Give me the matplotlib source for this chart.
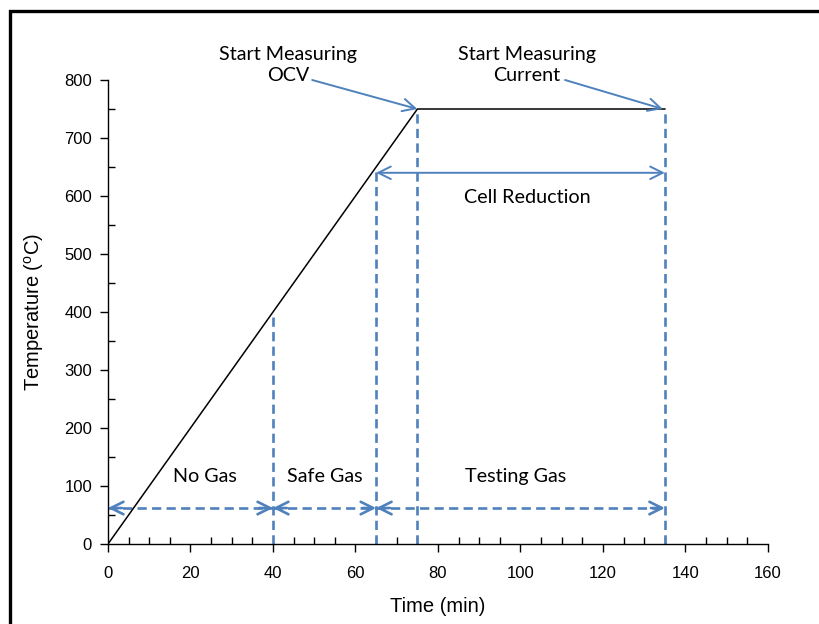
import matplotlib
matplotlib.use("Agg")
import matplotlib.pyplot as plt
from matplotlib.lines import Line2D
from matplotlib.ticker import MultipleLocator
import numpy as np

# Furnace temperature programme
ramp_time = [0, 75, 135]          # min
ramp_temp = [0, 750, 750]         # degC

# Gas phases (boundaries in min) and the level of their arrows
gas_bounds = [0, 40, 65, 135]
gas_labels = ["No Gas", "Safe Gas", "Testing Gas"]
gas_label_x = [23.5, 52.6, 98.7]
gas_arrow_y = 62

# Event markers (vertical dashed lines)
marker_times = [40, 65, 75, 135]

# Cell reduction span
reduction_span = [65, 135]
reduction_y = 640

BLUE = "#4F81BD"
TICK_FONT = "Liberation Sans"
NOTE_FONT = ["Lato", "DejaVu Sans"]
NOTE_SIZE = 14.2

fig = plt.figure(figsize=(8.2, 6.24), dpi=100)
ax = fig.add_axes([108 / 820, 1 - 544 / 624, 660 / 820, 464 / 624])

# temperature profile
ax.plot(ramp_time, ramp_temp, color="black", lw=1.1, zorder=3)

# vertical event markers up to the profile
for t in marker_times:
    top = np.interp(t, ramp_time, ramp_temp)
    ax.plot([t, t], [0, top], color=BLUE, lw=1.9, ls=(0, (3.5, 2.0)), zorder=2)

# dashed phase arrows
head = dict(arrowstyle="->,head_length=0.9,head_width=0.45", color=BLUE, lw=1.9,
            shrinkA=0, shrinkB=0)
for a, b in zip(gas_bounds[:-1], gas_bounds[1:]):
    ax.plot([a, b], [gas_arrow_y, gas_arrow_y], color=BLUE, lw=1.9,
            ls=(0, (3.5, 2.0)), zorder=2)
    ax.annotate("", xy=(a, gas_arrow_y), xytext=(10, 0), textcoords="offset points",
                arrowprops=head, zorder=4)
    ax.annotate("", xy=(b, gas_arrow_y), xytext=(-10, 0), textcoords="offset points",
                arrowprops=head, zorder=4)

for lbl, x in zip(gas_labels, gas_label_x):
    ax.text(x, 117, lbl, ha="center", va="center", fontsize=NOTE_SIZE, family=NOTE_FONT)

# cell reduction arrow
ax.annotate("", xy=(reduction_span[0], reduction_y), xytext=(reduction_span[1], reduction_y),
            arrowprops=dict(arrowstyle="<->,head_length=0.9,head_width=0.45", color=BLUE,
                            lw=1.4, shrinkA=0, shrinkB=0), zorder=4)
ax.text(101.6, 598, "Cell Reduction", ha="center", va="center", fontsize=NOTE_SIZE,
        family=NOTE_FONT)

# measurement start callouts
callout = dict(arrowstyle="->,head_length=0.9,head_width=0.45", color=BLUE, lw=1.4,
               shrinkA=0, shrinkB=0)
ax.text(43.6, 826, "Start Measuring\nOCV", ha="center", va="center", fontsize=NOTE_SIZE,
        family=NOTE_FONT, linespacing=1.3, clip_on=False)
ax.annotate("", xy=(75, 750), xytext=(49.5, 800), arrowprops=callout,
            annotation_clip=False)
ax.text(101.6, 826, "Start Measuring\nCurrent", ha="center", va="center", fontsize=NOTE_SIZE,
        family=NOTE_FONT, linespacing=1.3, clip_on=False)
ax.annotate("", xy=(134.5, 750), xytext=(110.8, 800), arrowprops=callout,
            annotation_clip=False)

# axes styling
ax.set_xlim(0, 160)
ax.set_ylim(0, 800)
ax.xaxis.set_major_locator(MultipleLocator(20))
ax.xaxis.set_minor_locator(MultipleLocator(5))
ax.yaxis.set_major_locator(MultipleLocator(100))
ax.yaxis.set_minor_locator(MultipleLocator(50))
ax.tick_params(which="major", direction="out", length=5.5, width=1.0, labelsize=12)
ax.tick_params(axis="x", which="major", pad=10)
ax.tick_params(axis="y", which="major", pad=6)
ax.tick_params(which="minor", direction="in", length=5, width=1.0)
for lab in ax.get_xticklabels() + ax.get_yticklabels():
    lab.set_fontfamily(TICK_FONT)
for side in ("top", "right"):
    ax.spines[side].set_visible(False)
for side in ("left", "bottom"):
    ax.spines[side].set_linewidth(1.0)

ax.set_xlabel("Time (min)", fontsize=14.5, family=TICK_FONT, labelpad=12)
ax.set_ylabel("Temperature ($^{\\mathregular{o}}$C)", fontsize=14.5, family=TICK_FONT,
              labelpad=13)

# outer frame
fig.add_artist(Line2D([10.5 / 820, 10.5 / 820, 1.0], [0.0, 1 - 10.5 / 624, 1 - 10.5 / 624],
                      transform=fig.transFigure, color="black", lw=2.4,
                      solid_joinstyle="miter"))

fig.savefig("out.png", dpi=100)
